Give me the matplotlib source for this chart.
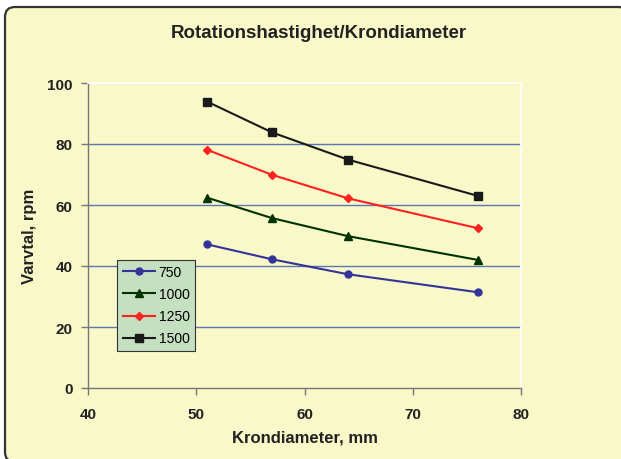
import matplotlib
matplotlib.use("Agg")
import matplotlib.pyplot as plt
from matplotlib.patches import FancyBboxPatch
from matplotlib.transforms import IdentityTransform

# data
diam = [51, 57, 64, 76]
rpm_750 = [47.1, 42.2, 37.3, 31.4]
rpm_1000 = [62.4, 55.7, 49.8, 42.0]
rpm_1250 = [78.1, 69.9, 62.2, 52.4]
rpm_1500 = [93.9, 83.8, 74.9, 63.0]
labels = ["750", "1000", "1250", "1500"]

BG = "#F8F8C8"
TXT = "#222222"
plt.rcParams["font.family"] = ["Liberation Sans", "DejaVu Sans"]

W, H = 621, 460
fig = plt.figure(figsize=(W / 100, H / 100), dpi=100)
fig.patch.set_facecolor("white")

# rounded chart border (pixel coords), cut off at right/bottom like the reference
frame = FancyBboxPatch((5, -3), 623, 455,
                       boxstyle="round,pad=0,rounding_size=10",
                       transform=IdentityTransform(), facecolor=BG,
                       edgecolor="#333333", linewidth=1.6, clip_on=False,
                       zorder=-10)
fig.patches.append(frame)

ax = fig.add_axes([88 / W, 71 / H, 433 / W, 305 / H])
ax.set_facecolor(BG)

series = [
    (rpm_750, "#333399", "o", 5),
    (rpm_1000, "#003300", "^", 6),
    (rpm_1250, "#FF2020", "D", 4.5),
    (rpm_1500, "#1A1A1A", "s", 5.5),
]
for (vals, col, mk, ms), lab in zip(series, labels):
    ax.plot(diam, vals, color=col, marker=mk, markersize=ms, linewidth=1.5,
            label=lab, zorder=3)

ax.set_xlim(40, 80)
ax.set_ylim(0, 100)
ax.set_xticks([40, 50, 60, 70, 80])
ax.set_yticks([0, 20, 40, 60, 80, 100])
for y in [20, 40, 60, 80]:
    ax.axhline(y, color="#5A76B4", linewidth=1.0, zorder=1)

for s in ["left", "bottom"]:
    ax.spines[s].set_color("#777777")
    ax.spines[s].set_linewidth(1.0)
for s in ["top", "right"]:
    ax.spines[s].set_color("white")
    ax.spines[s].set_linewidth(1.2)
ax.tick_params(direction="out", length=5, width=1, color="#777777",
               labelsize=11)
ax.tick_params(axis="x", pad=9)
ax.tick_params(axis="y", pad=6)
for t in ax.get_xticklabels() + ax.get_yticklabels():
    t.set_fontweight("bold")
    t.set_color(TXT)

ax.set_xlabel("Krondiameter, mm", fontsize=12, fontweight="bold", color=TXT)
ax.set_ylabel("Varvtal, rpm", fontsize=12, fontweight="bold", color=TXT)
ax.xaxis.set_label_coords(0.5, -42 / 305)
ax.yaxis.set_label_coords(-51 / 433, 0.5)

fig.text(319 / W, 1 - 34 / H, "Rotationshastighet/Krondiameter",
         fontsize=13.5, fontweight="bold", color=TXT,
         ha="center", va="center")

leg = ax.legend(loc="lower left", bbox_to_anchor=(29 / 433, 37 / 305),
                fontsize=10, frameon=True, fancybox=False,
                handlelength=2.3, handletextpad=0.3, labelspacing=0.58,
                borderpad=0.4, borderaxespad=0)
leg.get_frame().set_facecolor("#C4E0C0")
leg.get_frame().set_edgecolor("#333333")
leg.get_frame().set_linewidth(0.8)
leg.get_frame().set_alpha(1)

fig.savefig("out.png", dpi=100)
